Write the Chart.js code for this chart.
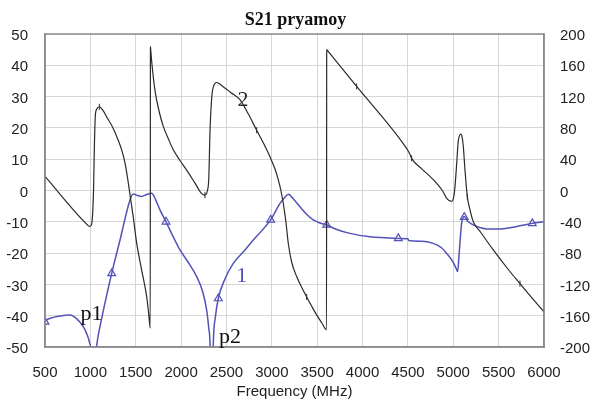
<!DOCTYPE html>
<html>
<head>
<meta charset="utf-8">
<script src="https://cdn.jsdelivr.net/npm/chart.js@4"></script>
<style>
  html, body { margin: 0; padding: 0; background: #ffffff; }
  #wrap { width: 591px; height: 401px; }
</style>
</head>
<body>
<div id="wrap"><canvas id="c" width="591" height="401"></canvas></div>
<script>
// ---- Data ----
const xTickValues = [500, 1000, 1500, 2000, 2500, 3000, 3500, 4000, 4500, 5000, 5500, 6000];
const leftTickValues = [-50, -40, -30, -20, -10, 0, 10, 20, 30, 40, 50];
const rightTickValues = [-200, -160, -120, -80, -40, 0, 40, 80, 120, 160, 200];

// Curve 2 (black): phase, right axis
const phaseFreq = [500, 959, 990, 1005, 1020, 1035, 1045, 1055, 1070, 1100, 1140, 1180, 1250, 1308, 1350, 1382, 1410, 1429, 1450, 1473, 1510, 1566, 1621, 1645, 1660, 1662, 1665, 1680, 1712, 1760, 1804, 1860, 1914, 1990, 2062, 2150, 2227, 2263, 2290, 2305, 2319, 2340, 2360, 2392, 2450, 2550, 2649, 2740, 2833, 2910, 2980, 3030, 3071, 3100, 3126, 3155, 3182, 3220, 3274, 3330, 3384, 3440, 3494, 3550, 3603, 3605, 3612, 3935, 4449, 4520, 4541, 4650, 4779, 4880, 4927, 4982, 5005, 5019, 5038, 5056, 5085, 5098, 5111, 5129, 5155, 5185, 5221, 5300, 5441, 5600, 5735, 5850, 6000];
const phaseDeg  = [18, -43, -46, -45, -38, 0, 60, 96, 104, 107, 102, 94, 80, 64, 50, 35, 16, 1, -16, -34, -67, -102, -136, -160, -176, 184, 180, 160, 128, 100, 82, 66, 52, 38, 26, 10, -4, -6, 0, 15, 77, 122, 134, 138, 134, 125, 116, 98, 77, 60, 43, 29, 14, 0, -16, -40, -68, -92, -110, -124, -136, -148, -159, -169, -178, 180, 179, 133, 60, 47, 41, 28, 14, 0, -10, -14, -8, 5, 35, 64, 72, 68, 56, 26, -8, -25, -40, -53, -76, -100, -119, -135, -155];
const phaseMarkFreq = [1099, 2263, 2833, 3384, 3935, 4541, 5155, 5735];
const phaseMarkDeg  = [107, -6, 77, -136, 133, 41, -8, -119];

// Curve 1 (blue): magnitude, left axis
const magFreq = [500, 560, 650, 776, 850, 922, 970, 990, 1003, 1035, 1068, 1080, 1106, 1235, 1327, 1437, 1473, 1520, 1566, 1620, 1676, 1720, 1767, 1834, 1900, 1988, 2080, 2172, 2240, 2282, 2305, 2319, 2337, 2355, 2380, 2410, 2480, 2575, 2690, 2796, 2900, 2987, 3090, 3140, 3182, 3240, 3310, 3380, 3457, 3530, 3605, 3700, 3862, 4082, 4250, 4394, 4500, 4510, 4650, 4779, 4870, 4927, 4990, 5030, 5048, 5065, 5092, 5121, 5160, 5221, 5300, 5368, 5500, 5625, 5750, 5871, 6000];
const magDb   = [-41.5, -40.8, -40.2, -39.8, -41, -43.5, -46.5, -48.5, -50.5, -75, -50.5, -47.5, -43.5, -26.5, -15.8, -3, -1.1, -1.6, -1.9, -1.3, -0.9, -3, -6.2, -10, -14, -19, -23, -27.5, -32.5, -38.2, -44, -48.8, -75, -48.8, -40, -34.5, -28.5, -23.3, -19.5, -15.8, -12.5, -9.4, -4.1, -2.3, -1.2, -2.8, -5.2, -7.5, -9.4, -10.4, -11, -12.3, -13.7, -14.8, -15.1, -15.3, -15.4, -16.0, -16.2, -16.9, -18.3, -20.1, -22.5, -24.8, -25.9, -20, -10.5, -8.3, -9.8, -11, -11.9, -12.3, -12.3, -11.9, -11.2, -10.5, -10];
const magMarkFreq = [500, 1235, 1834, 2410, 2987, 3605, 4394, 5121, 5871];
const magMarkDb   = [-42, -26.5, -10, -34.5, -9.4, -11, -15.3, -8.5, -10.5];

// Curve labels (text anchored at data coordinates)
const labelTexts = ['2', '1', 'p1', 'p2'];
const labelFreq  = [2682, 2668, 1013, 2539];
const labelDb    = [27.0, -29.1, -41.4, -48.8];

// ---- Styles ----
const BLUE = '#5252b8';
const BLACK = '#2a2a2a';
const labelColors = [BLACK, BLUE, '#111111', '#111111'];

const pts = (xs, ys) => xs.map((x, i) => ({ x: x, y: ys[i] }));

const borderPlugin = {
  id: 'plotBorder',
  afterDatasetsDraw(chart) {
    const a = chart.chartArea, ctx = chart.ctx;
    ctx.save();
    ctx.strokeStyle = '#8c8c8c';
    ctx.lineWidth = 1.5;
    ctx.strokeRect(a.left, a.top, a.right - a.left, a.bottom - a.top);
    ctx.restore();
  }
};

const labelPlugin = {
  id: 'curveLabels',
  afterDatasetsDraw(chart) {
    const ctx = chart.ctx, xs = chart.scales.x, ys = chart.scales.y;
    ctx.save();
    ctx.font = "22px 'Liberation Serif', 'Times New Roman', serif";
    ctx.textAlign = 'center';
    ctx.textBaseline = 'alphabetic';
    labelTexts.forEach((t, i) => {
      ctx.fillStyle = labelColors[i];
      ctx.fillText(t, xs.getPixelForValue(labelFreq[i]), ys.getPixelForValue(labelDb[i]));
    });
    ctx.restore();
  }
};

// shift vertical-axis tick labels slightly down, as in the reference
function fitVertical(width) {
  return s => {
    s.width = width;
    if (!s._shifted) {
      const orig = s.drawLabels;
      s.drawLabels = function (area) {
        this.ctx.save();
        this.ctx.translate(0, 2);
        orig.call(this, area);
        this.ctx.restore();
      };
      s._shifted = true;
    }
  };
}

Chart.defaults.font.family = "'Liberation Sans', Arial, sans-serif";
Chart.defaults.font.size = 15;
Chart.defaults.color = '#222222';

const plain = v => String(v);

new Chart(document.getElementById('c'), {
  type: 'line',
  data: {
    datasets: [
      {
        label: '2', data: pts(phaseFreq, phaseDeg), yAxisID: 'y2',
        borderColor: BLACK, borderWidth: 1.2, pointRadius: 0,
        cubicInterpolationMode: 'monotone', fill: false
      },
      {
        label: '2 marks', data: pts(phaseMarkFreq, phaseMarkDeg), yAxisID: 'y2',
        showLine: false, pointStyle: 'line', rotation: 90, pointRadius: 3,
        borderColor: BLACK, borderWidth: 1, backgroundColor: BLACK
      },
      {
        label: '1', data: pts(magFreq, magDb), yAxisID: 'y',
        borderColor: BLUE, borderWidth: 1.5, pointRadius: 0,
        cubicInterpolationMode: 'monotone', fill: false
      },
      {
        label: '1 marks', data: pts(magMarkFreq, magMarkDb), yAxisID: 'y',
        showLine: false, pointStyle: 'triangle', pointRadius: 4.5,
        borderColor: BLUE, borderWidth: 1.2, backgroundColor: 'rgba(0,0,0,0)'
      }
    ]
  },
  options: {
    responsive: false,
    animation: false,
    devicePixelRatio: 1,
    layout: { padding: 0 },
    plugins: {
      legend: { display: false },
      tooltip: { enabled: false },
      title: {
        display: true, text: 'S21 pryamoy', color: '#111111',
        font: { family: "'Liberation Serif', 'Times New Roman', serif", size: 18, weight: 'bold' },
        padding: { top: 10, bottom: 2.4 }
      }
    },
    scales: {
      x: {
        type: 'linear', min: 500, max: 6000,
        afterBuildTicks: s => { s.ticks = xTickValues.map(v => ({ value: v })); },
        afterFit: s => { s.height = 54; },
        ticks: { padding: 17, maxRotation: 0, autoSkip: false, color: '#222222', callback: plain },
        grid: { color: '#d6d6d6', lineWidth: 1, drawTicks: false },
        border: { color: '#8c8c8c', width: 1.5 },
        title: { display: true, text: 'Frequency (MHz)', color: '#222222', padding: { top: 0, bottom: 0 } }
      },
      y: {
        position: 'left', min: -50, max: 50,
        afterBuildTicks: s => { s.ticks = leftTickValues.map(v => ({ value: v })); },
        afterFit: fitVertical(45),
        ticks: { padding: 17, color: '#222222', callback: plain },
        grid: { color: '#d6d6d6', lineWidth: 1, drawTicks: false },
        border: { color: '#8c8c8c', width: 1.5 }
      },
      y2: {
        position: 'right', min: -200, max: 200,
        afterBuildTicks: s => { s.ticks = rightTickValues.map(v => ({ value: v })); },
        afterFit: fitVertical(47),
        ticks: { padding: 16, color: '#222222', callback: plain },
        grid: { drawOnChartArea: false, drawTicks: false },
        border: { color: '#8c8c8c', width: 1.5 }
      }
    }
  },
  plugins: [borderPlugin, labelPlugin]
});
</script>
</body>
</html>
